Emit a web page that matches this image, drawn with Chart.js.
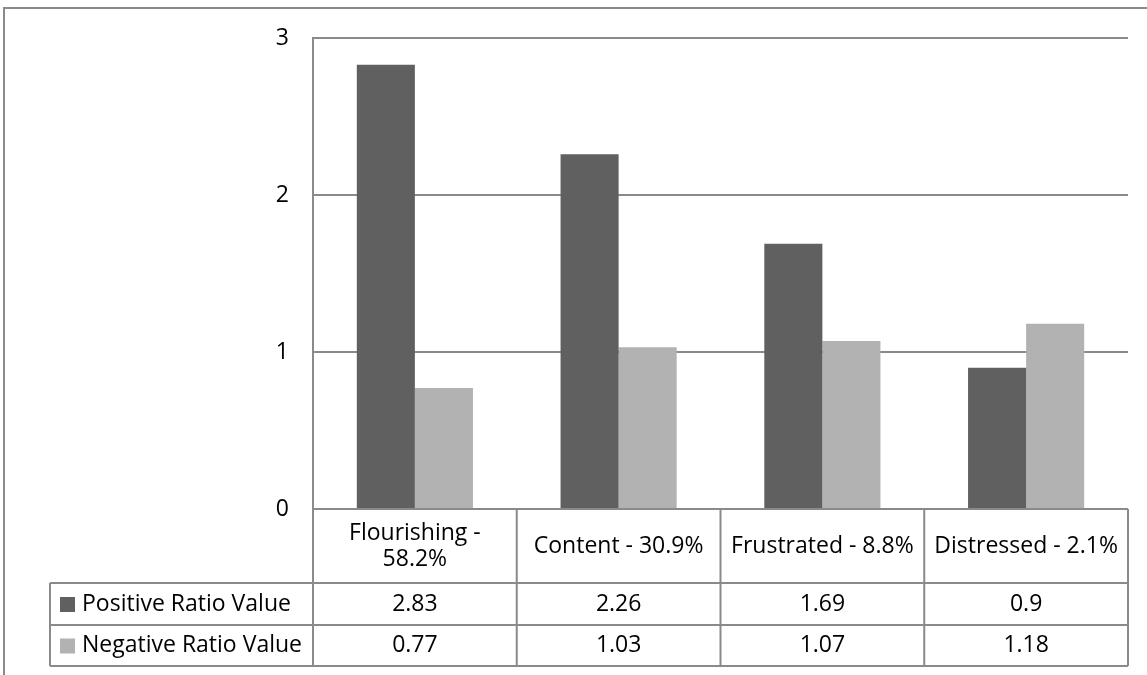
<!DOCTYPE html>
<html>
<head>
<meta charset="utf-8">
<script src="https://cdn.jsdelivr.net/npm/chart.js@4.4.1/dist/chart.umd.min.js"></script>
<style>
  html, body { margin: 0; padding: 0; background: #fff; }
  #wrap { width: 1147px; height: 675px; }
</style>
</head>
<body>
<div id="wrap"><canvas id="ratioChart" width="1147" height="675"></canvas></div>
<script>
// data
const categories = ['Flourishing - 58.2%', 'Content - 30.9%', 'Frustrated - 8.8%', 'Distressed - 2.1%'];
const seriesNames = ['Positive Ratio Value', 'Negative Ratio Value'];
const positiveValues = [2.83, 2.26, 1.69, 0.9];
const negativeValues = [0.77, 1.03, 1.07, 1.18];
const yTicks = [0, 1, 2, 3];

const seriesColors = ['#606060', '#b2b2b2'];
const lineColor = '#8a8a8a';
const fontFamily = '"Open Sans", sans-serif';
const fontSize = 23;

// wrap a label into lines that fit the cell
const wrapText = (ctx, text, maxWidth) => {
    const words = text.split(' ');
    const lines = [];
    let line = '';
    words.forEach(w => {
        const test = line ? line + ' ' + w : w;
        if (ctx.measureText(test).width > maxWidth && line) {
            lines.push(line);
            line = w;
        } else {
            line = test;
        }
    });
    if (line) lines.push(line);
    return lines;
};

// draws the outer frame and the Excel-like data table under the plot
const dataTable = {
    id: 'dataTable',
    beforeDraw(chart) {
        const ctx = chart.ctx;
        ctx.save();
        ctx.fillStyle = '#fff';
        ctx.fillRect(0, 0, chart.width, chart.height);
        ctx.strokeStyle = lineColor;
        ctx.lineWidth = 2;
        ctx.strokeRect(4, 8, chart.width + 20, chart.height + 20);
        ctx.restore();
    },
    afterDraw(chart) {
        const { ctx, chartArea, scales: { x } } = chart;
        const colW = (chartArea.right - chartArea.left) / categories.length;
        const top = chartArea.bottom;
        const headerBottom = top + 74;
        const rowBottoms = [headerBottom + 42, headerBottom + 83];
        const legendLeft = 50;

        ctx.save();
        ctx.strokeStyle = lineColor;
        ctx.lineWidth = 2;
        ctx.font = fontSize + 'px ' + fontFamily;
        ctx.fillStyle = '#000';
        ctx.textBaseline = 'middle';

        // horizontal lines
        ctx.beginPath();
        ctx.moveTo(chartArea.left, top);
        ctx.lineTo(chartArea.right, top);
        [headerBottom, ...rowBottoms].forEach(yy => {
            ctx.moveTo(legendLeft, yy);
            ctx.lineTo(chartArea.right, yy);
        });
        // vertical lines
        ctx.moveTo(legendLeft, headerBottom);
        ctx.lineTo(legendLeft, rowBottoms[1]);
        for (let i = 0; i <= categories.length; i++) {
            const xx = chartArea.left + i * colW;
            ctx.moveTo(xx, top);
            ctx.lineTo(xx, rowBottoms[1]);
        }
        ctx.stroke();

        // header labels
        ctx.textAlign = 'center';
        categories.forEach((c, i) => {
            const cx = x.getPixelForValue(i);
            const lines = wrapText(ctx, c, colW - 8);
            const lh = 26;
            const cy = (top + headerBottom) / 2 - (lines.length - 1) * lh / 2;
            lines.forEach((l, k) => ctx.fillText(l, cx, cy + k * lh));
        });

        // series rows with their legend keys
        const rowTops = [headerBottom, rowBottoms[0]];
        const rowValues = [positiveValues, negativeValues];
        rowValues.forEach((vals, r) => {
            const cy = (rowTops[r] + rowBottoms[r]) / 2;
            ctx.fillStyle = seriesColors[r];
            ctx.fillRect(legendLeft + 10, cy - 7, 15, 15);
            ctx.fillStyle = '#000';
            ctx.textAlign = 'left';
            ctx.fillText(seriesNames[r], legendLeft + 32, cy);
            ctx.textAlign = 'center';
            vals.forEach((v, i) => ctx.fillText(String(v), x.getPixelForValue(i), cy));
        });
        ctx.restore();
    }
};

const ctx = document.getElementById('ratioChart').getContext('2d');
new Chart(ctx, {
    type: 'bar',
    data: {
        labels: categories,
        datasets: [
            { label: seriesNames[0], data: positiveValues, backgroundColor: seriesColors[0] },
            { label: seriesNames[1], data: negativeValues, backgroundColor: seriesColors[1] }
        ]
    },
    options: {
        responsive: false,
        animation: false,
        layout: { padding: { left: 0, top: 38, right: 19, bottom: 166 } },
        datasets: { bar: { barPercentage: 1, categoryPercentage: 0.57 } },
        plugins: { legend: { display: false }, tooltip: { enabled: false } },
        scales: {
            x: { display: false },
            y: {
                min: yTicks[0],
                max: yTicks[yTicks.length - 1],
                afterBuildTicks: s => { s.ticks = yTicks.map(v => ({ value: v })); },
                afterFit: s => { s.width = 313; },
                ticks: { color: '#000', padding: 24, font: { family: fontFamily, size: fontSize } },
                grid: { color: lineColor, lineWidth: 2, drawTicks: false },
                border: { color: lineColor, width: 2 }
            }
        }
    },
    plugins: [dataTable]
});
</script>
</body>
</html>
